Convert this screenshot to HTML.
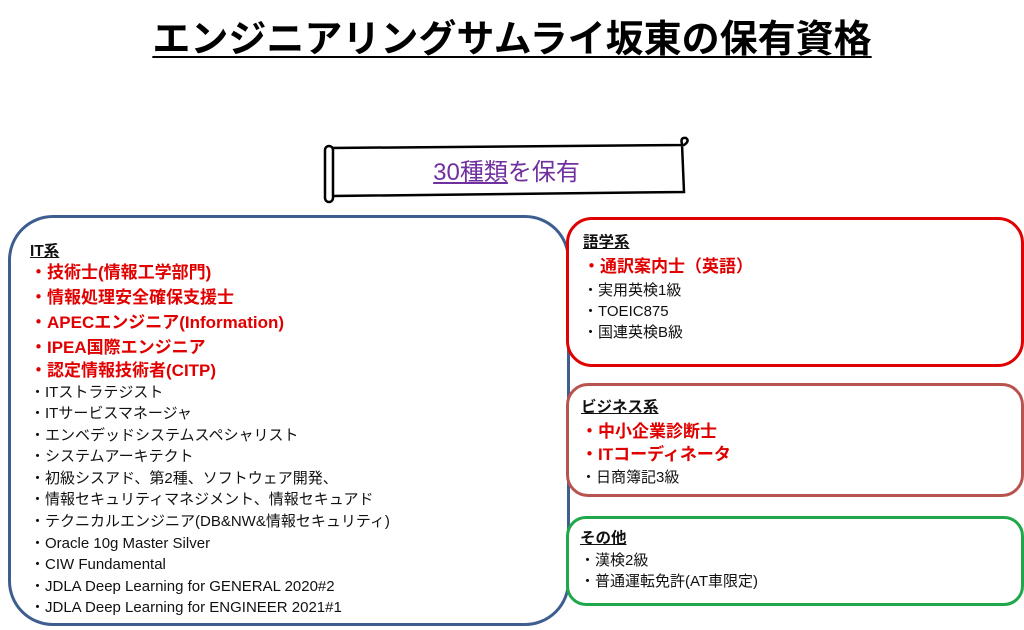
<!DOCTYPE html>
<html><head><meta charset="utf-8"><style>
body{margin:0;width:1024px;height:630px;background:#fff;position:relative;overflow:hidden;font-family:"Liberation Sans","Noto Sans CJK JP",sans-serif;}
.a{position:absolute;white-space:nowrap;line-height:20px;height:20px;}
.box{position:absolute;box-sizing:border-box;background:#fff;}
.r{color:#e00000;font-weight:bold;font-size:17px;}
.k{color:#111;font-size:15px;}
.h{color:#111;font-size:15.5px;font-weight:bold;text-decoration:underline;}
</style></head><body>
<div class="a" style="left:0;width:1024px;text-align:center;top:18px;height:44px;line-height:44px;font-size:38px;font-weight:bold;color:#000;"><span style="text-decoration:underline;text-underline-offset:4px;text-decoration-thickness:2px;">エンジニアリングサムライ坂東の保有資格</span></div>

<svg style="position:absolute;left:318px;top:136px" width="378" height="72">
<path d="M12 12 L366 9 Q372 5 368 2 Q362 1 364 8 L366 56 L14 60" fill="#fff" stroke="#000" stroke-width="2.5"/>
<rect x="7" y="10" width="8" height="56" rx="4" fill="#fff" stroke="#000" stroke-width="2.5"/>
</svg>
<div class="a" style="left:325px;width:363px;text-align:center;top:159px;height:28px;line-height:28px;font-size:24px;color:#7030a0;"><span style="text-decoration:underline">30種類</span>を保有</div>

<div class="box" style="left:8px;top:215px;width:562px;height:411px;border:3px solid #3d5e8f;border-radius:45px;"></div>
<div class="a h" style="left:30px;top:242px">IT系</div>
<div class="a r" style="left:30px;top:263px">・技術士(情報工学部門)</div>
<div class="a r" style="left:30px;top:288px">・情報処理安全確保支援士</div>
<div class="a r" style="left:30px;top:313px">・APECエンジニア(Information)</div>
<div class="a r" style="left:30px;top:338px">・IPEA国際エンジニア</div>
<div class="a r" style="left:30px;top:361px">・認定情報技術者(CITP)</div>
<div class="a k" style="left:30px;top:383px">・ITストラテジスト</div>
<div class="a k" style="left:30px;top:404px">・ITサービスマネージャ</div>
<div class="a k" style="left:30px;top:426px">・エンベデッドシステムスペシャリスト</div>
<div class="a k" style="left:30px;top:447px">・システムアーキテクト</div>
<div class="a k" style="left:30px;top:469px">・初級シスアド、第2種、ソフトウェア開発、</div>
<div class="a k" style="left:30px;top:490px">・情報セキュリティマネジメント、情報セキュアド</div>
<div class="a k" style="left:30px;top:512px">・テクニカルエンジニア(DB&amp;NW&amp;情報セキュリティ)</div>
<div class="a k" style="left:30px;top:534px">・Oracle 10g Master Silver</div>
<div class="a k" style="left:30px;top:555px">・CIW Fundamental</div>
<div class="a k" style="left:30px;top:577px">・JDLA Deep Learning for GENERAL 2020#2</div>
<div class="a k" style="left:30px;top:598px">・JDLA Deep Learning for ENGINEER 2021#1</div>

<div class="box" style="left:566px;top:217px;width:458px;height:150px;border:3px solid #e00000;border-radius:26px;"></div>
<div class="a h" style="left:583px;top:233px">語学系</div>
<div class="a r" style="left:583px;top:257px">・通訳案内士（英語）</div>
<div class="a k" style="left:583px;top:281px">・実用英検1級</div>
<div class="a k" style="left:583px;top:302px">・TOEIC875</div>
<div class="a k" style="left:583px;top:323px">・国連英検B級</div>

<div class="box" style="left:566px;top:383px;width:458px;height:114px;border:3px solid #b85450;border-radius:22px;"></div>
<div class="a h" style="left:581px;top:398px">ビジネス系</div>
<div class="a r" style="left:581px;top:422px">・中小企業診断士</div>
<div class="a r" style="left:581px;top:445px">・ITコーディネータ</div>
<div class="a k" style="left:581px;top:468px">・日商簿記3級</div>

<div class="box" style="left:566px;top:516px;width:458px;height:90px;border:3px solid #1fa84a;border-radius:20px;"></div>
<div class="a h" style="left:580px;top:529px">その他</div>
<div class="a k" style="left:580px;top:551px">・漢検2級</div>
<div class="a k" style="left:580px;top:572px">・普通運転免許(AT車限定)</div>
</body></html>
